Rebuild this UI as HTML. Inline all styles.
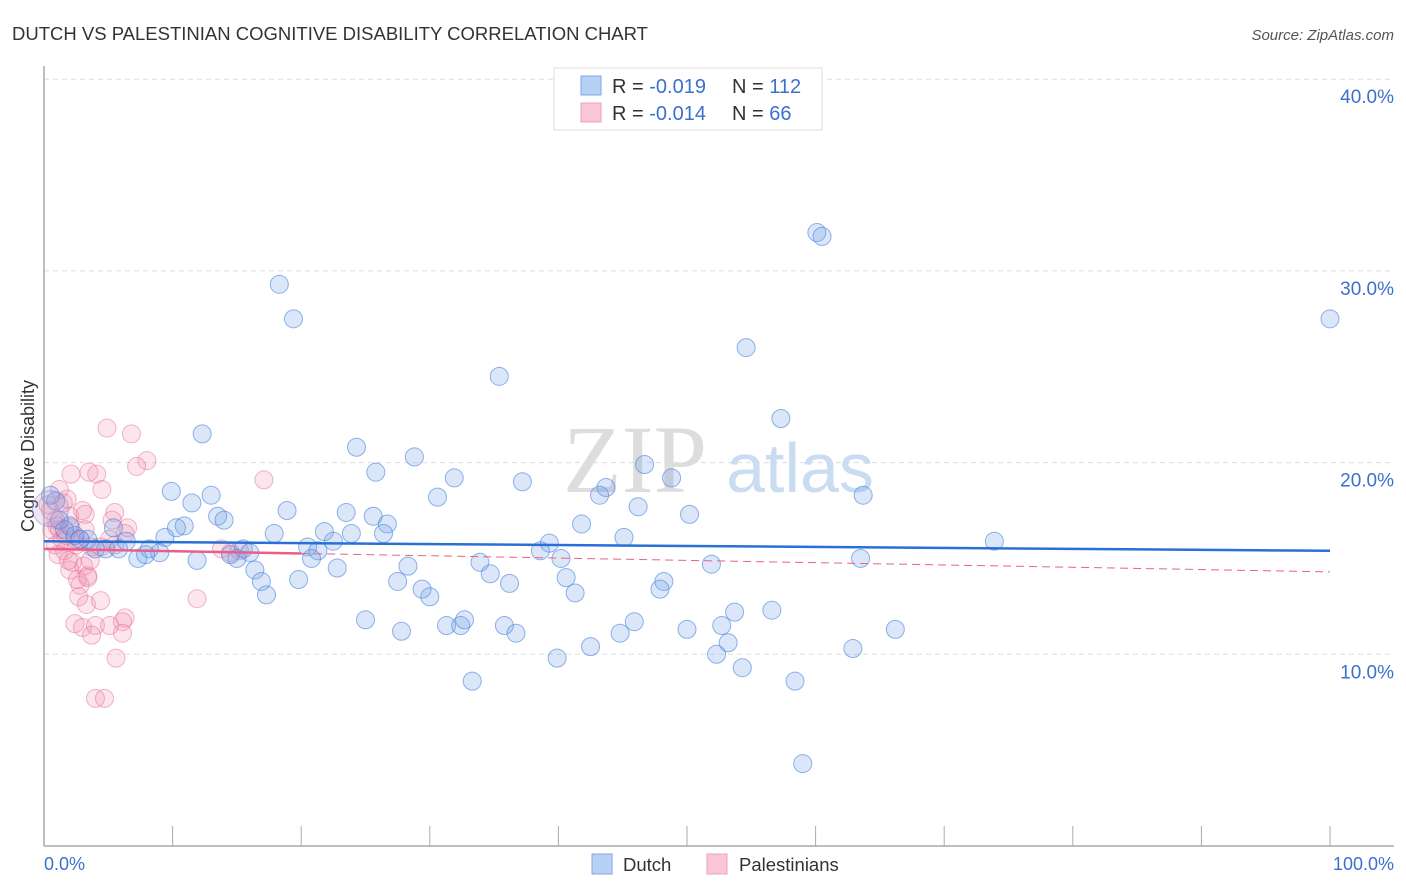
<!DOCTYPE html>
<html><head><meta charset="utf-8"><style>
body{margin:0;background:#fff;font-family:"Liberation Sans",sans-serif;}
svg{display:block}
</style></head><body>
<svg id="chart" width="1406" height="892">
<text x="12" y="40" font-size="18.5" fill="#333">DUTCH VS PALESTINIAN COGNITIVE DISABILITY CORRELATION CHART</text>
<text x="1394" y="40" font-size="15" fill="#555" font-style="italic" text-anchor="end">Source: ZipAtlas.com</text>
<text x="0" y="0" transform="translate(34,456) rotate(-90)" font-size="18" fill="#333" text-anchor="middle">Cognitive Disability</text>
<g id="grid"></g>
<text x="635" y="492" font-size="96" fill="#ddd" font-family="Liberation Serif" text-anchor="middle">ZIP</text>
<text x="800" y="492" font-size="70" fill="#c9dcf2" text-anchor="middle">atlas</text>
<g id="pts"></g>
<g id="lines"></g>
<g>
<rect x="554" y="68" width="268" height="62" fill="#fff" stroke="#ddd"/>
<rect x="581" y="76" width="20" height="19" fill="#b7d1f5" stroke="#7fa7e2"/>
<rect x="581" y="103" width="20" height="19" fill="#f9c6d6" stroke="#eca1b8"/>
<text x="612" y="93" font-size="20" fill="#333">R = <tspan fill="#3b70cf">-0.019</tspan></text>
<text x="732" y="93" font-size="20" fill="#333">N = <tspan fill="#3b70cf">112</tspan></text>
<text x="612" y="120" font-size="20" fill="#333">R = <tspan fill="#3b70cf">-0.014</tspan></text>
<text x="732" y="120" font-size="20" fill="#333">N = <tspan fill="#3b70cf"> 66</tspan></text>
</g>
<text x="44" y="870" font-size="18" fill="#3b70cf">0.0%</text>
<text x="1394" y="870" font-size="18" fill="#3b70cf" text-anchor="end">100.0%</text>
<rect x="592" y="854" width="20" height="20" fill="#b7d1f5" stroke="#7fa7e2"/>
<text x="623" y="871" font-size="18.5" fill="#333">Dutch</text>
<rect x="707" y="854" width="20" height="20" fill="#f9c6d6" stroke="#eca1b8"/>
<text x="739" y="871" font-size="18.5" fill="#333">Palestinians</text>
</svg>
<script>
const yTicks=[10,20,30,40];
const yTickLabels=["10.0%","20.0%","30.0%","40.0%"];
const dutchX=[18.3,19.4,12.3,35.4,54.6,60.1,60.5,100,57.3,24.3,28.8,25.8,31.9,37.2,46.7,48.8,43.7,43.2,30.6,63.7,9.9,13.0,11.5,18.9,13.5,14.0,23.5,25.6,26.7,50.2,41.8,46.2,10.9,10.3,9.4,5.4,17.9,21.8,23.9,26.4,22.5,45.1,73.9,39.3,2.0,3.4,4.0,4.8,5.8,6.4,8.2,9.0,7.3,7.9,11.9,14.5,15.5,16.0,15.0,20.5,21.3,20.8,38.6,40.2,63.5,33.9,34.7,28.3,22.8,16.4,16.9,17.3,19.8,27.5,29.4,30.0,36.2,40.6,41.3,48.2,47.9,51.9,25.0,27.8,31.3,32.4,32.7,35.8,36.7,42.5,44.8,45.9,50.0,52.7,53.7,53.2,56.6,52.3,39.9,62.9,66.2,54.3,33.3,58.4,59.0,0.9,1.2,0.5,1.6,2.4,2.8];
const dutchY=[29.3,27.5,21.5,24.5,26.0,32.0,31.8,27.5,22.3,20.8,20.3,19.5,19.2,19.0,19.9,19.2,18.7,18.3,18.2,18.3,18.5,18.3,17.9,17.5,17.2,17.0,17.4,17.2,16.8,17.3,16.8,17.7,16.7,16.6,16.1,16.6,16.3,16.4,16.3,16.3,15.9,16.1,15.9,15.8,16.7,16.0,15.5,15.5,15.5,15.9,15.5,15.3,15.0,15.2,14.9,15.2,15.5,15.3,15.0,15.6,15.4,15.0,15.4,15.0,15.0,14.8,14.2,14.6,14.5,14.4,13.8,13.1,13.9,13.8,13.4,13.0,13.7,14.0,13.2,13.8,13.4,14.7,11.8,11.2,11.5,11.5,11.8,11.5,11.1,10.4,11.1,11.7,11.3,11.5,12.2,10.6,12.3,10.0,9.8,10.3,11.3,9.3,8.6,8.6,4.3,18.0,17.0,18.3,16.5,16.2,16.0];
const palX=[4.9,6.8,4.1,3.5,2.1,8.0,7.2,4.5,17.1,2.0,3.0,1.5,1.8,5.5,5.3,6.5,0.9,1.2,2.1,3.2,6.3,2.8,0.9,1.6,3.7,4.4,1.4,1.1,2.2,3.1,3.4,2.6,2.8,3.4,2.0,2.7,3.3,11.9,2.4,3.0,4.0,5.1,6.3,6.1,3.7,6.1,5.6,4.0,4.7,13.8,14.5,15.2,1.2,0.5,0.6,1.7,2.5,3.6,5.5,4.4,2.4,5.1,1.9,3.2,1.0,0.3];
const palY=[21.8,21.5,19.4,19.5,19.4,20.1,19.8,18.6,19.1,17.2,17.5,17.9,18.1,17.4,17.0,16.6,17.0,16.5,16.6,17.3,16.3,16.0,15.7,15.4,15.6,15.6,16.0,15.2,14.8,14.6,14.1,13.9,13.6,14.0,14.4,13.0,12.6,12.9,11.6,11.4,11.5,11.5,11.9,11.7,11.0,11.1,9.8,7.7,7.7,15.5,15.3,15.4,18.6,17.5,16.5,16.2,15.7,14.9,15.7,12.8,16.0,16.0,14.9,16.5,16.7,17.8];
const dutchTrend=[15.9,15.4];
const palTrend=[15.5,14.3];
const NS='http://www.w3.org/2000/svg';
const xs=v=>44+v*12.86, ys=v=>846-v*19.17;
function mk(t,a,p){const e=document.createElementNS(NS,t);for(const k in a)e.setAttribute(k,a[k]);p.appendChild(e);return e;}
const grid=document.getElementById('grid');
yTicks.forEach((t,i)=>{
 const l=mk('line',{x1:44,x2:1394,y1:ys(t),y2:ys(t),stroke:'#ddd','stroke-dasharray':'5,4'},grid);
 
 
 const tx=mk('text',{x:1394,y:ys(t)+24,'font-size':19,fill:'#3b70cf','text-anchor':'end'},grid);
 tx.textContent=yTickLabels[i];
 
 
});
const ax=mk('line',{x1:44,x2:44,y1:66,y2:846,stroke:'#aaa','stroke-width':1.5},grid);


const bx=mk('line',{x1:44,x2:1394,y1:846,y2:846,stroke:'#aaa','stroke-width':1.5},grid);


for(let i=1;i<=10;i++){const t=mk('line',{x1:xs(i*10),x2:xs(i*10),y1:826,y2:846,stroke:'#aaa'},grid);
 
 }
const pts=document.getElementById('pts');
palX.forEach((x,i)=>{const c=mk('circle',{cx:xs(x),cy:ys(palY[i]),r:9,fill:'rgba(244,150,180,0.25)',stroke:'rgba(230,110,150,0.5)'},pts);
 
 });
dutchX.forEach((x,i)=>{const c=mk('circle',{cx:xs(x),cy:ys(dutchY[i]),r:9,fill:'rgba(110,160,230,0.25)',stroke:'rgba(70,130,220,0.6)'},pts);
 
 });
const big=mk('circle',{cx:xs(0.5),cy:ys(17.6),r:18,fill:'rgba(180,160,210,0.25)',stroke:'rgba(150,130,210,0.5)'},pts);


const lines=document.getElementById('lines');
const pt=(a,b)=>a+(b-a)*0.2;
const l1=mk('line',{x1:xs(0),y1:ys(dutchTrend[0]),x2:xs(100),y2:ys(dutchTrend[1]),stroke:'#2a6fd6','stroke-width':2.5},lines);


const l2=mk('line',{x1:xs(0),y1:ys(palTrend[0]),x2:xs(20),y2:ys(pt(palTrend[0],palTrend[1])),stroke:'#e8608a','stroke-width':2.5},lines);


const l3=mk('line',{x1:xs(20),y1:ys(pt(palTrend[0],palTrend[1])),x2:xs(100),y2:ys(palTrend[1]),stroke:'#e8608a','stroke-width':1,'stroke-dasharray':'8,5'},lines);


</script>
</body></html>
